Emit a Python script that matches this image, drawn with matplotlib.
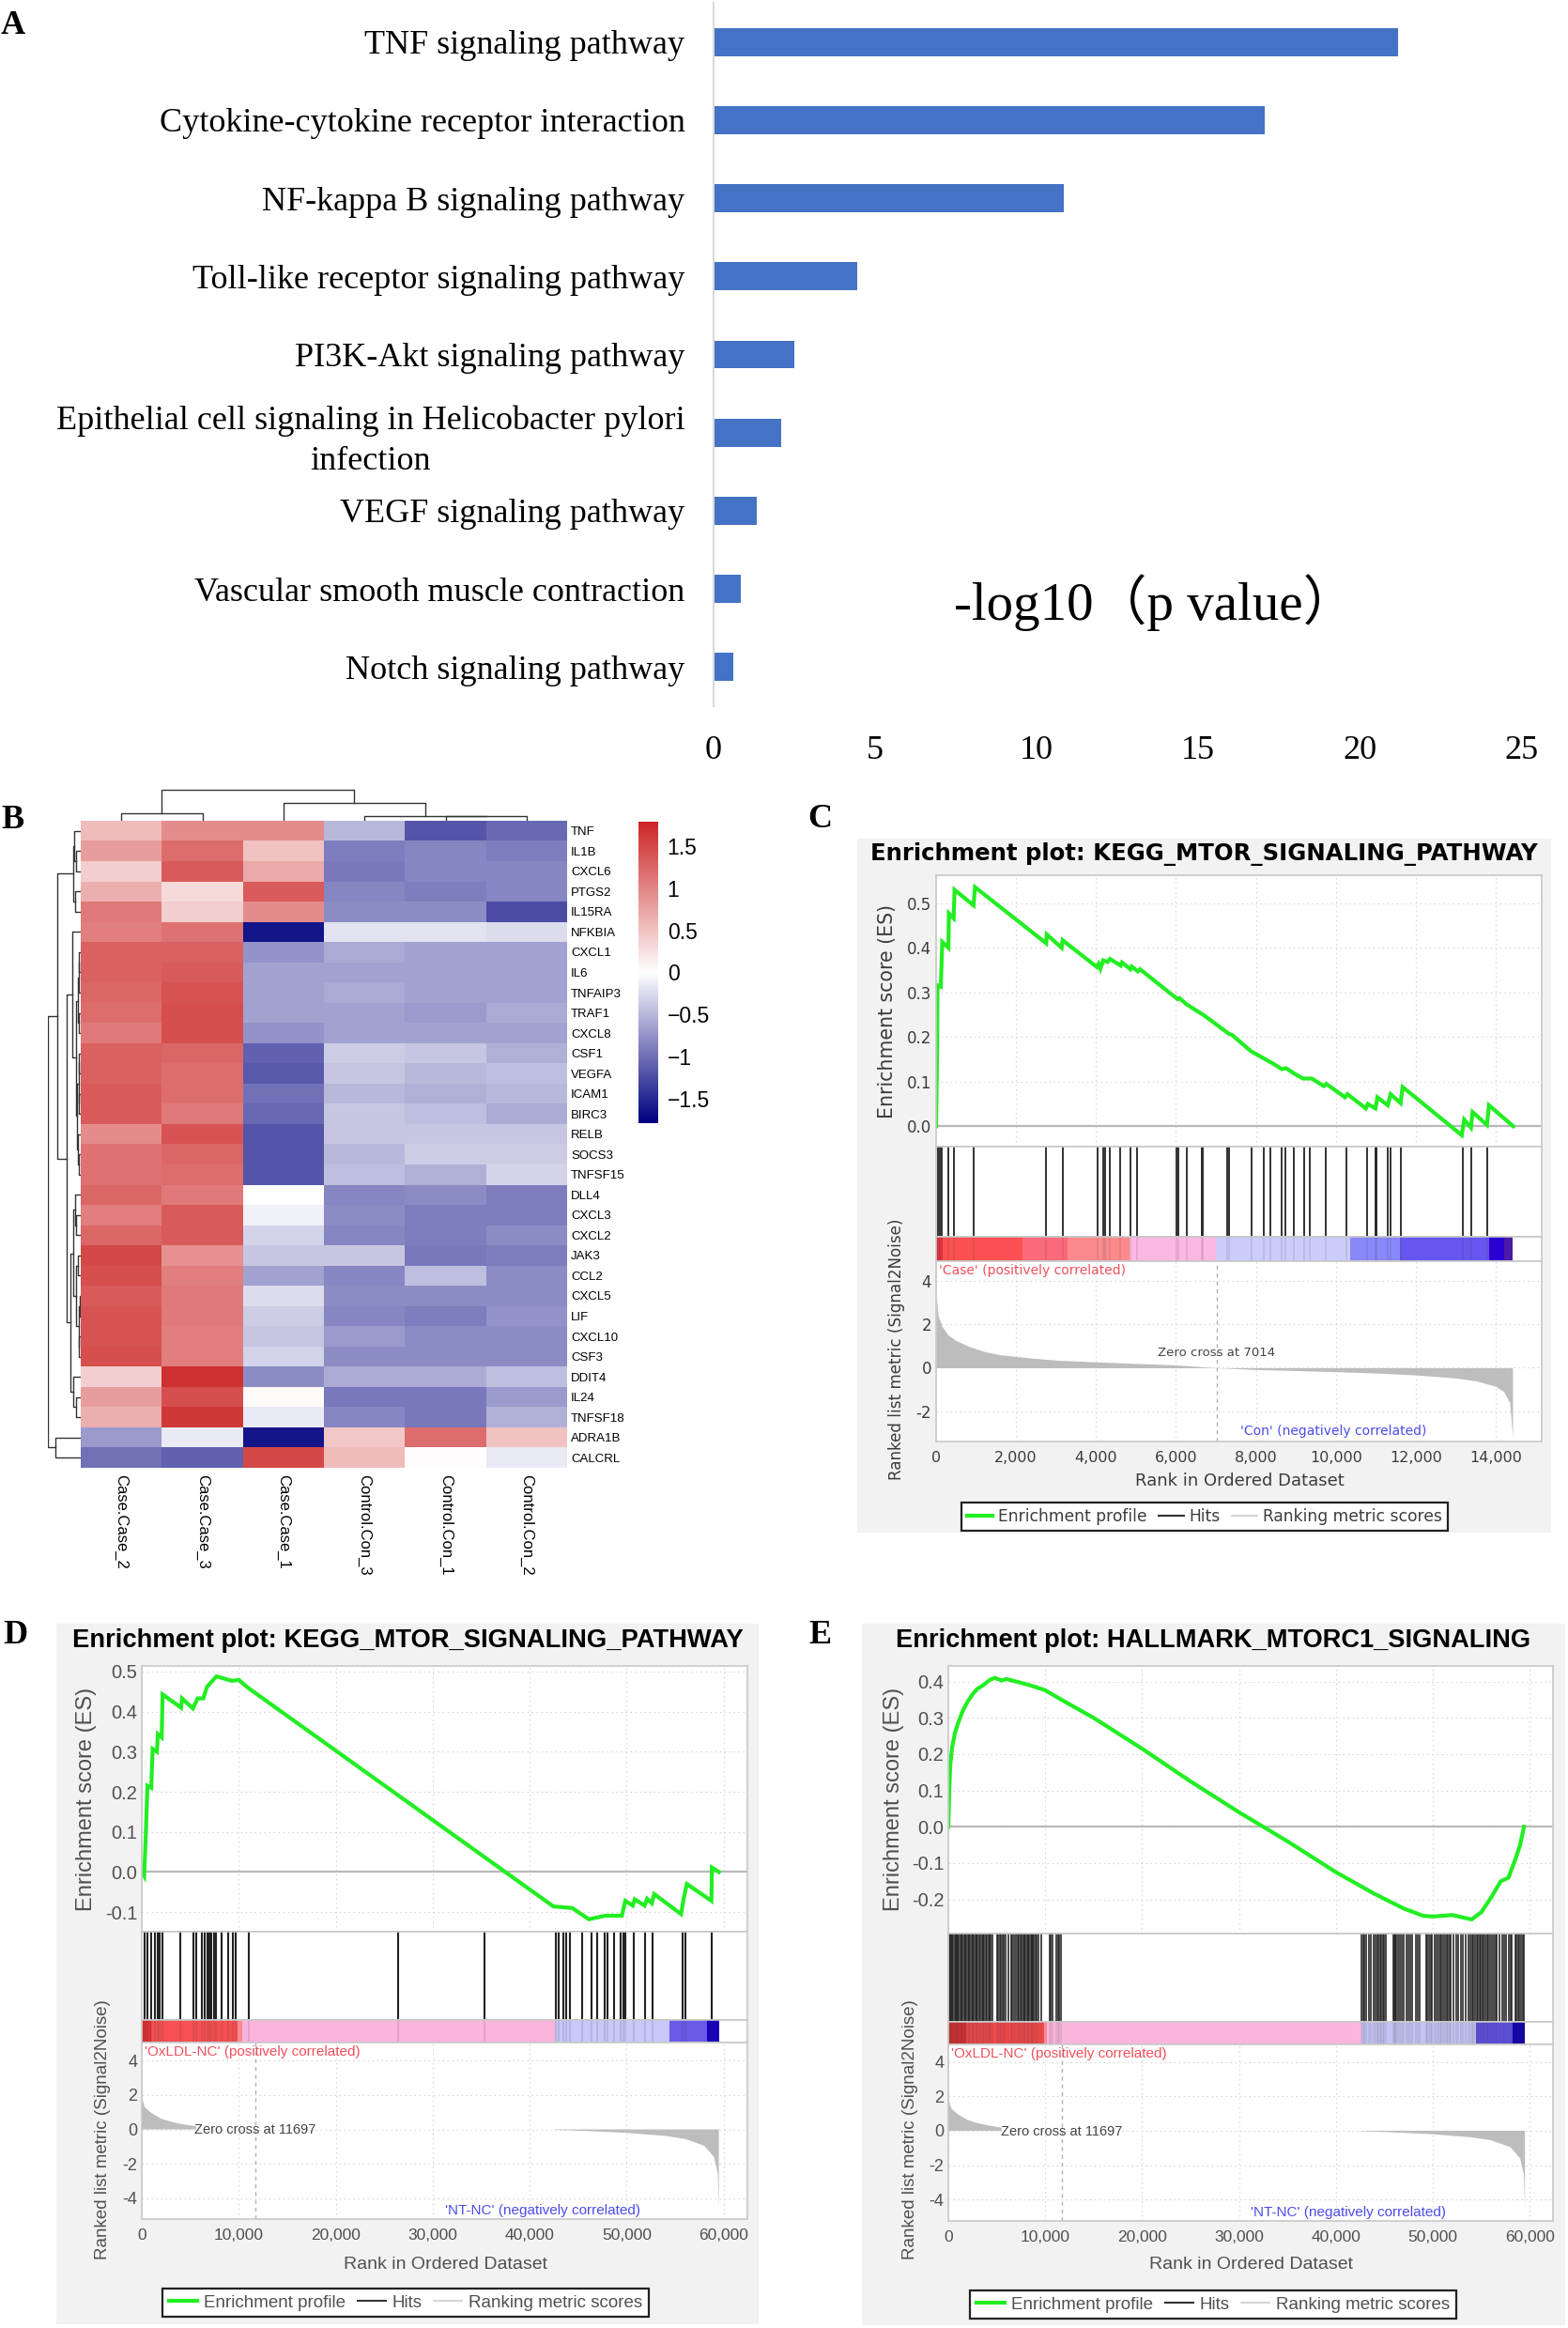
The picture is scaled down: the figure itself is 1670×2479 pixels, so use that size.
import matplotlib
matplotlib.use('Agg')
import matplotlib.pyplot as plt
from matplotlib.colors import LinearSegmentedColormap
from matplotlib.lines import Line2D
import numpy as np

W, H = 1670, 2479
nan = float('nan')

# panel A
pathways = ['TNF signaling pathway', 'Cytokine-cytokine receptor interaction',
            'NF-kappa B signaling pathway', 'Toll-like receptor signaling pathway',
            'PI3K-Akt signaling pathway',
            'Epithelial cell signaling in Helicobacter pylori\ninfection',
            'VEGF signaling pathway', 'Vascular smooth muscle contraction',
            'Notch signaling pathway']
log_p = [21.2, 17.05, 10.85, 4.45, 2.5, 2.1, 1.35, 0.85, 0.6]

# panel B
genes = ['TNF', 'IL1B', 'CXCL6', 'PTGS2', 'IL15RA', 'NFKBIA', 'CXCL1', 'IL6', 'TNFAIP3',
         'TRAF1', 'CXCL8', 'CSF1', 'VEGFA', 'ICAM1', 'BIRC3', 'RELB', 'SOCS3', 'TNFSF15',
         'DLL4', 'CXCL3', 'CXCL2', 'JAK3', 'CCL2', 'CXCL5', 'LIF', 'CXCL10', 'CSF3',
         'DDIT4', 'IL24', 'TNFSF18', 'ADRA1B', 'CALCRL']
samples = ['Case.Case_2', 'Case.Case_3', 'Case.Case_1', 'Control.Con_3', 'Control.Con_1', 'Control.Con_2']
heat = [
    [.55, .95, .95, -.5, -1.2, -1.05],
    [.8, 1.2, .5, -.9, -.85, -.9],
    [.4, 1.35, .7, -.95, -.85, -.85],
    [.65, .3, 1.35, -.85, -.9, -.85],
    [1.1, .4, .95, -.8, -.8, -1.25],
    [1.05, 1.15, -1.65, -.2, -.2, -.25],
    [1.3, 1.3, -.75, -.6, -.65, -.65],
    [1.3, 1.35, -.65, -.65, -.65, -.65],
    [1.25, 1.4, -.65, -.6, -.65, -.65],
    [1.2, 1.45, -.65, -.65, -.7, -.6],
    [1.1, 1.45, -.75, -.65, -.65, -.65],
    [1.3, 1.25, -1.1, -.35, -.4, -.55],
    [1.3, 1.2, -1.15, -.4, -.5, -.45],
    [1.35, 1.2, -1, -.5, -.55, -.5],
    [1.35, 1.1, -1.05, -.4, -.45, -.6],
    [.95, 1.4, -1.2, -.4, -.4, -.4],
    [1.15, 1.25, -1.2, -.5, -.35, -.35],
    [1.15, 1.2, -1.2, -.45, -.55, -.3],
    [1.25, 1.1, 0.0, -.85, -.8, -.9],
    [1.05, 1.35, -.1, -.8, -.9, -.9],
    [1.25, 1.35, -.3, -.85, -.9, -.8],
    [1.5, .9, -.4, -.4, -.95, -.9],
    [1.45, 1.05, -.65, -.85, -.45, -.8],
    [1.35, 1.1, -.25, -.8, -.8, -.8],
    [1.4, 1.1, -.35, -.85, -.9, -.75],
    [1.4, 1.05, -.4, -.7, -.8, -.8],
    [1.45, 1.05, -.3, -.8, -.8, -.8],
    [.4, 1.7, -.8, -.6, -.6, -.45],
    [.8, 1.45, .05, -.95, -.95, -.7],
    [.65, 1.65, -.15, -.85, -.95, -.55],
    [-.7, -.15, -1.65, .45, 1.2, .5],
    [-1, -1.1, 1.5, .55, .02, -.15],
]
# merges: position a, position b, height a, height b, height of the join
col_tree = [(0, 1, 0, 0, 15), (4, 5, 0, 0, 8), (3, 4.5, 0, 8, 8.5), (2, 3.75, 0, 8.5, 33),
            (.5, 2.875, 15, 33, 59)]
row_tree = [(1, 2, 0, 0, 8), (0, 1.5, 0, 8, 12), (3, 4, 0, 0, 10), (.75, 3.5, 12, 10, 15),
            (6, 7, 0, 0, 3), (6.5, 8, 3, 0, 4), (9, 10, 0, 0, 4), (7.25, 9.5, 4, 4, 6),
            (11, 12, 0, 0, 3), (13, 14, 0, 0, 3), (11.5, 13.5, 3, 3, 4), (16, 17, 0, 0, 3),
            (15, 16.5, 0, 3, 5), (12.5, 15.75, 4, 5, 7), (8.4, 14.1, 6, 7, 9), (5, 11.2, 0, 9, 16),
            (19, 20, 0, 0, 8), (18, 19.5, 0, 8, 10), (21, 22, 0, 0, 6), (23, 24, 0, 0, 2),
            (25, 26, 0, 0, 3), (23.5, 25.5, 2, 3, 4), (21.5, 24.5, 6, 4, 8), (18.75, 23, 10, 8, 14),
            (28, 29, 0, 0, 8), (27, 28.5, 0, 8, 14), (20.9, 27.75, 14, 14, 20), (8.1, 24.3, 16, 20, 27),
            (2.1, 16.2, 15, 27, 45), (30, 31, 0, 0, 48), (9.15, 30.5, 45, 48, 62)]

# panel C
c_rank = [0, 24, 36, 118, 154, 308, 320, 439, 462, 936, 972, 2755, 2767, 3140, 3165, 4020, 4065, 4110, 4183,
          4290, 4350, 4620, 4650, 4860, 4890, 5050, 5100, 6040, 6090, 6270, 6680, 7330, 7400, 7880, 8200,
          8400, 8650, 8760, 8960, 9180, 9400, 9700, 9760, 10230, 10290, 10750, 10800, 10990, 11040, 11300,
          11370, 11620, 11670, 13150, 13210, 13380, 13420, 13780, 13830, 14440]
c_es = [0, .16, .316, .313, .413, .40, .477, .466, .53, .495, .536, .41, .43, .40, .417, .357, .364, .353, .372,
        .368, .375, .36, .367, .352, .358, .347, .352, .285, .287, .273, .25, .207, .205, .168, .152,
        .142, .128, .13, .118, .107, .107, .09, .095, .065, .072, .04, .05, .04, .065, .047,
        .072, .052, .088, -.02, .015, -.003, .032, .003, .047, 0]
c_hits = [36, 83, 142, 308, 450, 948, 2749, 3175, 4040, 4170, 4230, 4349, 4610, 4859, 5025, 6020, 6067, 6269,
          6636, 6672, 7288, 7336, 7881, 8200, 8366, 8650, 8745, 8958, 9207, 9349, 9741, 10273, 10783, 10984,
          11008, 11304, 11363, 11636, 13177, 13390, 13793]
c_band_edges = [0, 165, 2155, 3283, 4847, 6992, 10357, 11613, 13829, 14208, 14420]
c_band_colors = ['#e8343c', '#fb5052', '#fb6a7c', '#fc8a8c', '#fbb8e2', '#ccccfc', '#8888fa', '#6655ee', '#2a00d0', '#4a1aa8']
c_metric_rank = [0, 50, 150, 300, 500, 800, 1200, 1600, 2200, 3000, 4000, 5000, 6000, 7014, 8000, 9000, 10000,
                 11000, 12000, 13000, 13500, 14000, 14200, 14350, 14420]
c_metric = [3.4, 2.4, 1.9, 1.5, 1.25, 1.0, .75, .6, .48, .35, .27, .2, .13, 0, -.08, -.13, -.18, -.24, -.33,
            -.47, -.6, -.85, -1.1, -1.6, -3.2]

# panel D
d_rank = [0, 244, 390, 585, 975, 1120, 1560, 1660, 2050, 2150, 4050, 4150, 5270, 5760, 6340, 6730, 7700, 9270,
          10000, 10980, 42440, 44390, 46100, 47800, 49500, 49850, 50630, 50830, 51850, 52100, 52590, 52830,
          55600, 55900, 56200, 58730, 58780, 59500]
d_es = [0, -.01, .077, .215, .21, .307, .30, .344, .336, .443, .41, .433, .408, .433, .433, .462, .488, .477,
        .479, .459, -.086, -.09, -.118, -.109, -.109, -.072, -.084, -.068, -.084, -.067, -.078, -.055,
        -.105, -.063, -.03, -.072, .011, 0]
d_hits = [290, 540, 980, 1320, 1610, 1850, 2150, 4000, 5370, 5610, 6200, 6440, 6730, 6930, 7170, 7420, 7660,
          8250, 8930, 9420, 9710, 11080, 26400, 35330, 42650, 42940, 43430, 43770, 44160, 45430, 46360, 46990,
          47730, 47970, 48650, 49390, 49680, 49870, 50750, 51870, 52700, 55730, 56020, 58760]
d_band_edges = [0, 1000, 9900, 10400, 42600, 54400, 58300, 59500]
d_band_colors = ['#dc3034', '#f65052', '#f88a90', '#fbb4dc', '#c8c8fa', '#6a5ae8', '#1a00b8']
d_metric_rank = [0, 100, 300, 1000, 2000, 3000, 4000, 5600, 5601, 42500, 45000, 50000, 54000, 56000, 58000, 59000, 59400, 59500]
d_metric = [2.4, 1.7, 1.3, .95, .62, .45, .32, .18, nan, -.02, -.07, -.2, -.38, -.55, -.95, -1.6, -2.6, -4.7]

# panel E
e_rank = [0, 100, 200, 400, 700, 1000, 1500, 2000, 2500, 3000, 3600, 4300, 4800, 5500, 6000, 7000, 8000, 9000,
          10000, 12000, 15000, 20000, 25000, 30000, 32500, 35000, 40000, 44000, 47000, 49000, 50000, 52000,
          54000, 55000, 56000, 57000, 57800, 58500, 59000, 59400]
e_es = [0, .1, .17, .22, .26, .285, .32, .345, .365, .38, .39, .405, .41, .403, .407, .4, .393, .385,
        .376, .345, .30, .215, .125, .04, 0, -.04, -.125, -.185, -.225, -.245, -.247, -.243,
        -.255, -.235, -.195, -.15, -.14, -.09, -.05, 0]
e_hits = [60, 180, 290, 420, 520, 640, 760, 870, 1000, 1100, 1250, 1380, 1500, 1620, 1750, 1870, 2000, 2130,
          2260, 2380, 2520, 2650, 2790, 2910, 3050, 3180, 3320, 3450, 3590, 3720, 3850, 3990, 4130, 4270, 4400,
          4540, 5000, 5130, 5280, 5420, 5600, 5750, 5950, 6200, 6500, 6600, 6750, 6950, 7150, 7300, 7450, 7600,
          7720, 7850, 7980, 8100, 8230, 8350, 8480, 8600, 8730, 8860, 8990, 9150, 9300, 9550, 10450, 10580,
          10720, 11150, 11300, 11450, 11600,
          42650, 42800, 42950, 43150, 43400, 43600, 43850, 44050, 44250, 44400, 44550, 44700, 44850, 45000, 45100,
          45900, 46000, 46100, 46250, 46400, 46600, 46800, 47000, 47300, 47500, 47700, 47900, 48200, 48400, 48650,
          49300, 49450, 49600, 49750, 49900, 50200, 50400, 50600, 50750, 50900, 51100, 51250, 51400, 51500, 51700,
          51850, 52100, 52400, 52650, 52850, 53100, 53400, 53650, 53900, 54050, 54200, 54350, 54500, 54650, 54800,
          54950, 55100, 55250, 55400, 55600, 55750, 55900, 56050, 56300, 56450, 56600, 56850, 57200, 57350, 57500,
          57800, 58000, 58150, 58500, 58650, 58800, 58950, 59100, 59250, 59370]
e_band_edges = [0, 1800, 9900, 10200, 42600, 54400, 58200, 59500]
e_band_colors = ['#d83034', '#f24a4c', '#f88a90', '#fbb4dc', '#c4c4f4', '#6050e0', '#1000b0']
e_metric_rank = [0, 100, 300, 1000, 2000, 3000, 4000, 5500, 5501, 42500, 45000, 50000, 54000, 56000, 58000, 59000, 59400, 59500]
e_metric = [2.4, 1.7, 1.3, .95, .62, .45, .32, .18, nan, -.02, -.07, -.2, -.38, -.55, -.95, -1.6, -2.6, -4.7]


def px_axes(left, top, right, bottom, **kw):
    return fig.add_axes([left / W, 1 - bottom / H, (right - left) / W, (bottom - top) / H], **kw)


def fig_text(x, y, s, **kw):
    kw.setdefault('ha', 'center')
    kw.setdefault('va', 'center')
    fig.text(x / W, 1 - y / H, s, **kw)


fig = plt.figure(figsize=(W / 100, H / 100), dpi=100)

# ---- A
ax = px_axes(760, 3, 1620, 752)
ax.barh(range(len(log_p)), log_p, height=.36, color='#4472C4')
ax.set_xlim(0, 25)
ax.set_ylim(8.5, -.5)
ax.set_yticks(range(len(pathways)))
ax.set_yticklabels(pathways, family='Liberation Serif', fontsize=26, ma='center', linespacing=1.4)
ax.set_xticks([0, 5, 10, 15, 20, 25])
ax.set_xticklabels(['0', '5', '10', '15', '20', '25'], family='Liberation Serif', fontsize=26)
ax.tick_params(length=0)
ax.tick_params(axis='y', pad=22)
ax.tick_params(axis='x', pad=22)
for s in ['top', 'right', 'bottom']:
    ax.spines[s].set_visible(False)
ax.spines['left'].set_color('#d9d9d9')
ax.spines['left'].set_linewidth(1.5)
fig_text(1230, 642, '-log10（p value）', family=['Liberation Serif', 'Noto Sans CJK SC'], fontsize=41)

# panel letters
for x, y, s in [(14, 28, 'A'), (14, 874, 'B'), (873, 872, 'C'), (16, 1741, 'D'), (873, 1741, 'E')]:
    fig_text(x, y, s, family='Liberation Serif', fontweight='bold', fontsize=26)

# ---- B
cmap = LinearSegmentedColormap.from_list('navy_red', ['#000080', '#ffffff', '#cd2626'])
ax = px_axes(86, 874, 604, 1563)
ax.imshow(heat, cmap=cmap, vmin=-1.79, vmax=1.79, aspect='auto', interpolation='nearest')
ax.set_xticks(range(len(samples)))
ax.set_xticklabels(samples, rotation=270, family='Liberation Sans', fontsize=12)
ax.set_yticks(range(len(genes)))
ax.set_yticklabels(genes, family='Liberation Sans', fontsize=9.5)
ax.yaxis.tick_right()
ax.tick_params(length=0, pad=3)
ax.tick_params(axis='x', pad=5)
for s in ax.spines.values():
    s.set_visible(False)

ax = px_axes(86, 840, 604, 874)
for a, b, ha, hb, h in col_tree:
    ax.plot([a, a, b, b], [ha, h, h, hb], color='#333333', lw=1)
ax.set_xlim(-.5, 5.5)
ax.set_ylim(0, 60)
ax.axis('off')

ax = px_axes(51, 874, 86, 1563)
for a, b, ha, hb, h in row_tree:
    ax.plot([ha, h, h, hb], [a, a, b, b], color='#333333', lw=1)
ax.set_xlim(62, 0)
ax.set_ylim(31.5, -.5)
ax.axis('off')

ax = px_axes(680, 875, 701, 1196)
ax.imshow(np.linspace(1.79, -1.79, 256).reshape(-1, 1), cmap=cmap, vmin=-1.79, vmax=1.79, aspect='auto',
          extent=[0, 1, -1.79, 1.79])
ax.set_xticks([])
ax.yaxis.tick_right()
ax.set_yticks([-1.5, -1, -.5, 0, .5, 1, 1.5])
ax.set_yticklabels(['\u22121.5', '\u22121', '\u22120.5', '0', '0.5', '1', '1.5'], family='Liberation Sans', fontsize=16.5)
ax.tick_params(length=0, pad=7)
for s in ax.spines.values():
    s.set_visible(False)


# ---- GSEA panels
def gsea(box, plot_x, ys, title, es_lim, es_ticks, metric_lim, metric_ticks, xmax, xticks, rank, es, hits, edges, colors,
         m_rank, metric, zero, pos_name, neg_name, zero_txt, neg_pos, legend, fonts, hit_lw):
    family, tcol, fs, es_fs, x_pad = fonts
    left, right = plot_x
    t1, t2, t3, t4, t5 = ys
    bg = px_axes(*box, facecolor='#f2f2f2', zorder=0)
    bg.set_xticks([])
    bg.set_yticks([])
    for s in bg.spines.values():
        s.set_visible(False)
    fig_text((box[0] + box[2]) / 2 + title[2], title[1], title[0], family=family, fontweight='bold', fontsize=title[3], color='black')

    a1 = px_axes(left, t1, right, t2)
    a2 = px_axes(left, t2, right, t3)
    a3 = px_axes(left, t3, right, t4)
    a4 = px_axes(left, t4, right, t5)
    for a in (a1, a2, a3, a4):
        a.set_xlim(0, xmax)
        for s in a.spines.values():
            s.set_color('#c8c8c8')
            s.set_linewidth(1.2)
        a.tick_params(length=0)
    for a in (a1, a4):
        a.grid(True, ls=(0, (1.5, 3)), color='#d8d8d8', lw=.8)
        a.set_axisbelow(True)
        a.set_xticks(xticks)
    a1.set_ylim(*es_lim)
    a1.set_yticks(es_ticks)
    a1.set_yticklabels(['%.1f' % v for v in es_ticks], family=family, fontsize=es_fs, color=tcol)
    a1.set_xticklabels([])
    a1.axhline(0, color='#b8b8b8', lw=1.6)
    a1.plot(rank, es, color='#22ee22', lw=3, solid_joinstyle='miter')

    a2.vlines(hits, 0, 1, color='#222222', lw=hit_lw)
    a2.set_ylim(0, 1)
    a2.set_xticks([])
    a2.set_yticks([])

    a3.set_ylim(0, 1)
    a3.set_xticks([])
    a3.set_yticks([])
    a3.barh(.5, np.diff(edges), left=edges[:-1], height=1, color=colors, linewidth=0)
    a3.vlines(hits, 0, 1, color='#333333', lw=hit_lw, alpha=.12)

    a4.set_ylim(*metric_lim)
    a4.set_yticks(metric_ticks)
    a4.set_yticklabels(['%d' % v for v in metric_ticks], family=family, fontsize=fs, color=tcol)
    a4.set_xticklabels(['{:,}'.format(v) for v in xticks], family=family, fontsize=fs - .5, color=tcol)
    a4.tick_params(axis='x', pad=x_pad)
    a4.fill_between(m_rank, metric, 0, color='#bdbdbd', linewidth=0)
    a4.axvline(zero, color='#b0b0b0', lw=1, ls=(0, (3, 3)))
    a4.text(zero_txt[0], zero_txt[1], 'Zero cross at %d' % zero, family=family, fontsize=fs - 2.5, color='#444444',
            ha='center', va='center')
    a4.text(.005, .985, pos_name, transform=a4.transAxes, family=family, fontsize=fs - 2, color='#f0505c',
            ha='left', va='top')
    a4.text(neg_pos[0], neg_pos[1], neg_name, transform=a4.transAxes, family=family, fontsize=fs - 2, color='#4c4cee',
            ha='left', va='center')

    fig_text(legend['es_label'][0], legend['es_label'][1], 'Enrichment score (ES)', family=family, rotation=90,
             fontsize=legend['es_fs'], color=tcol)
    fig_text(legend['m_label'][0], legend['m_label'][1], 'Ranked list metric (Signal2Noise)', family=family, rotation=90,
             fontsize=legend['m_fs'], color=tcol)
    fig_text(legend['x_label'][0], legend['x_label'][1], 'Rank in Ordered Dataset', family=family, fontsize=fs + 1, color=tcol)

    handles = [Line2D([], [], color='#22ee22', lw=3), Line2D([], [], color='#333333', lw=1.5),
               Line2D([], [], color='#cccccc', lw=1.2)]
    leg = fig.legend(handles, ['Enrichment profile', 'Hits', 'Ranking metric scores'], loc='center',
                     bbox_to_anchor=(legend['center'][0] / W, 1 - legend['center'][1] / H), ncol=3, frameon=True,
                     fancybox=False, edgecolor='#222222', facecolor='white', framealpha=1,
                     prop={'family': family, 'size': legend['leg_fs']}, labelcolor=tcol, handlelength=1.6,
                     handletextpad=.35, columnspacing=.7, borderpad=.35)
    leg.get_frame().set_linewidth(1.6)
    leg.set_zorder(5)


gsea((913, 893, 1652, 1632), (997, 1642), (932, 1221, 1317, 1343, 1535),
     ('Enrichment plot: KEGG_MTOR_SIGNALING_PATHWAY', 909, 0, 17.6),
     (-.0456, .5626), [0, .1, .2, .3, .4, .5], (-3.39, 4.9), [-2, 0, 2, 4], 15150,
     list(range(0, 14001, 2000)), c_rank, c_es, c_hits, c_band_edges, c_band_colors,
     c_metric_rank, c_metric, 7014, "'Case' (positively correlated)", "'Con' (negatively correlated)",
     (7014, .7), (.502, .055),
     {'es_label': (945, 1077), 'm_label': (955, 1437), 'x_label': (1320, 1577), 'center': (1283, 1615),
      'es_fs': 14.8, 'm_fs': 12.1, 'leg_fs': 12.3},
     ('DejaVu Sans', '#3c3c3c', 12, 12, 7), 1.3)

gsea((60, 1729, 808, 2475), (151, 796), (1774, 2057, 2151, 2175, 2363),
     ('Enrichment plot: KEGG_MTOR_SIGNALING_PATHWAY', 1747, 0, 19.7),
     (-.149, .514), [-.1, 0, .1, .2, .3, .4, .5], (-5.2, 5.04), [-4, -2, 0, 2, 4], 62440,
     list(range(0, 60001, 10000)), d_rank, d_es, d_hits, d_band_edges, d_band_colors,
     d_metric_rank, d_metric, 11697, "'OxLDL-NC' (positively correlated)", "'NT-NC' (negatively correlated)",
     (11700, -.05), (.5, .05),
     {'es_label': (92, 1916), 'm_label': (110, 2268), 'x_label': (474, 2411), 'center': (432, 2452),
      'es_fs': 17, 'm_fs': 13.5, 'leg_fs': 13.5},
     ('Liberation Sans', '#505050', 13, 14.5, 7), 1.5)

gsea((918, 1729, 1667, 2476), (1010, 1654), (1774, 2059, 2153, 2177, 2365),
     ('Enrichment plot: HALLMARK_MTORC1_SIGNALING', 1747, 0, 19.6),
     (-.294, .443), [-.2, -.1, 0, .1, .2, .3, .4], (-5.23, 5.01), [-4, -2, 0, 2, 4], 62390,
     list(range(0, 60001, 10000)), e_rank, e_es, e_hits, e_band_edges, e_band_colors,
     e_metric_rank, e_metric, 11697, "'OxLDL-NC' (positively correlated)", "'NT-NC' (negatively correlated)",
     (11700, -.05), (.5, .05),
     {'es_label': (952, 1916), 'm_label': (970, 2268), 'x_label': (1333, 2411), 'center': (1292, 2454),
      'es_fs': 17, 'm_fs': 13.5, 'leg_fs': 13.5},
     ('Liberation Sans', '#505050', 13, 14.5, 7), 1.15)

fig.savefig('out.png', dpi=100, facecolor='white')
